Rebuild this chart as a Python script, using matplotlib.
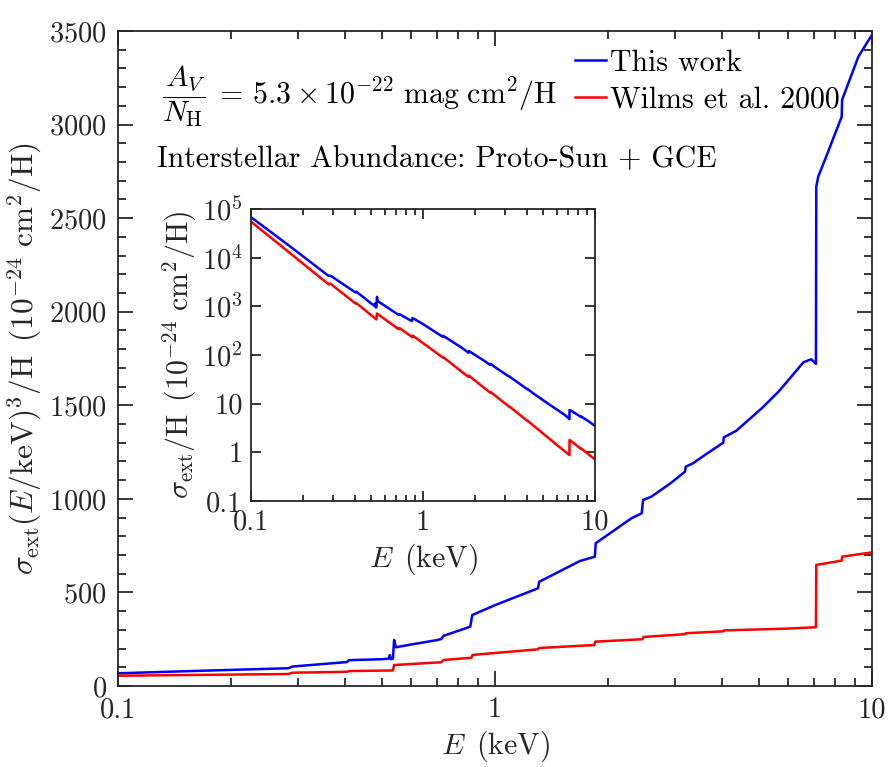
import numpy as np
import matplotlib
matplotlib.use("Agg")
import matplotlib.pyplot as plt
from matplotlib.ticker import FixedLocator, FixedFormatter, NullFormatter, NullLocator

plt.rcParams['font.family'] = 'serif'
plt.rcParams['font.serif'] = ['cmr10']
plt.rcParams['mathtext.fontset'] = 'cm'
plt.rcParams['axes.formatter.use_mathtext'] = True
plt.rcParams['axes.unicode_minus'] = False

# ---- data: E (keV) and sigma_ext * E^3 (1e-24 cm^2/H)
E_this = [0.100, 0.170, 0.283, 0.290, 0.405, 0.410, 0.500, 0.522, 0.526, 0.530,
          0.536, 0.540, 0.546, 0.600, 0.700, 0.720, 0.730, 0.860, 0.870, 1.000,
          1.300, 1.310, 1.680, 1.840, 1.850, 2.300, 2.450, 2.470, 2.600, 2.920,
          3.190, 3.205, 3.350, 3.600, 4.030, 4.045, 4.360, 5.100, 5.650, 5.950,
          6.580, 6.900, 7.100, 7.115, 7.200, 7.500, 8.310, 8.330, 9.200, 10.00]
Y_this = [68, 82, 95, 104, 128, 138, 143, 146, 165, 143,
          146, 246, 207, 222, 245, 251, 268, 317, 379, 432,
          522, 557, 668, 691, 763, 896, 923, 994, 1012, 1083,
          1145, 1172, 1190, 1234, 1300, 1329, 1363, 1484, 1573, 1626,
          1730, 1746, 1721, 2668, 2722, 2811, 3042, 3132, 3363, 3480]

E_wilms = [0.100, 0.283, 0.290, 0.405, 0.410, 0.536, 0.540, 0.720, 0.730, 0.866,
           0.872, 1.300, 1.310, 1.835, 1.845, 2.460, 2.475, 3.190, 3.205, 4.030,
           4.045, 6.000, 7.100, 7.115, 8.310, 8.330, 10.00]
Y_wilms = [55, 64, 71, 76, 80, 83, 112, 127, 139, 151,
           166, 196, 203, 219, 237, 250, 262, 277, 282, 292,
           297, 307, 314, 647, 670, 691, 714]

labels = ['This work', 'Wilms et al. 2000']
colors = ['#0000ff', '#ff0000']
x_ticks = [0.1, 1, 10]
x_ticklabels = ['0.1', '1', '10']
inset_yticks = [0.1, 1, 10, 1e2, 1e3, 1e4, 1e5]
inset_yticklabels = ['0.1', '1', '10', r'$10^2$', r'$10^3$', r'$10^4$', r'$10^5$']

E_this = np.array(E_this); Y_this = np.array(Y_this, float)
E_wilms = np.array(E_wilms); Y_wilms = np.array(Y_wilms, float)

dark = '#262626'
TICK = 20.5
LAB = 21.5
fig = plt.figure(figsize=(8.91, 7.67), dpi=100)
ax = fig.add_axes([118/891, 81/767, 754/891, 655/767])

ax.plot(E_this, Y_this, color=colors[0], lw=1.8, label=labels[0])
ax.plot(E_wilms, Y_wilms, color=colors[1], lw=1.8, label=labels[1])
ax.set_xscale('log')
ax.set_xlim(0.1, 10)
ax.set_ylim(0, 3500)
ax.xaxis.set_major_locator(FixedLocator(x_ticks))
ax.xaxis.set_major_formatter(FixedFormatter(x_ticklabels))
ax.xaxis.set_minor_locator(FixedLocator([m * 10.0**k for k in (-1, 0) for m in range(2, 10)]))
ax.xaxis.set_minor_formatter(NullFormatter())
ax.set_yticks(np.arange(0, 3501, 500))
ax.set_yticks(np.arange(0, 3501, 100), minor=True)

for s in ax.spines.values():
    s.set_color(dark); s.set_linewidth(1.3)
ax.tick_params(which='both', direction='in', top=True, right=True, colors=dark,
               labelsize=TICK, width=1.3, pad=8)
ax.tick_params(which='major', length=11)
ax.tick_params(which='minor', length=5.5)

ax.set_xlabel(r'$E\ \,(\mathrm{keV})$', fontsize=LAB, color=dark, labelpad=4)
ax.set_ylabel(r'$\sigma_{\rm ext}(E/\mathrm{keV})^3/\mathrm{H}\ \,(10^{-24}\ \mathrm{cm}^2/\mathrm{H})$',
              fontsize=22.5, color=dark, labelpad=4)

leg = ax.legend(loc='upper left', bbox_to_anchor=(0.606, 0.972), frameon=False, fontsize=LAB,
                handlelength=1.05, handletextpad=0.12, labelspacing=0.32, borderpad=0,
                borderaxespad=0)

ax.text(0.058, 0.900, r'$\dfrac{A_V}{N_\mathrm{H}}\;=\,5.3\times10^{-22}\ \mathrm{mag\ cm^2/H}$',
        transform=ax.transAxes, fontsize=LAB, ha='left', va='center')
ax.text(0.052, 0.793, 'Interstellar Abundance: Proto-Sun + GCE',
        transform=ax.transAxes, fontsize=LAB, ha='left', va='baseline')

# ---- inset
ins = fig.add_axes([251/891, (767-501)/767, 344/891, 292/767])
ins.plot(E_this, Y_this / E_this**3, color=colors[0], lw=1.8)
ins.plot(E_wilms, Y_wilms / E_wilms**3, color=colors[1], lw=1.8)
ins.set_xscale('log'); ins.set_yscale('log')
ins.set_xlim(0.1, 10); ins.set_ylim(0.1, 1e5)
ins.xaxis.set_major_locator(FixedLocator(x_ticks))
ins.xaxis.set_major_formatter(FixedFormatter(x_ticklabels))
ins.xaxis.set_minor_locator(FixedLocator([m * 10.0**k for k in (-1, 0) for m in range(2, 10)]))
ins.xaxis.set_minor_formatter(NullFormatter())
ins.yaxis.set_major_locator(FixedLocator(inset_yticks))
ins.yaxis.set_major_formatter(FixedFormatter(inset_yticklabels))
ins.yaxis.set_minor_locator(NullLocator())
for s in ins.spines.values():
    s.set_color(dark); s.set_linewidth(1.3)
ins.tick_params(which='both', direction='in', top=True, right=True, colors=dark,
                labelsize=TICK, width=1.3, pad=6)
ins.tick_params(which='major', length=7)
ins.tick_params(which='minor', length=4)
ins.set_xlabel(r'$E\ \,(\mathrm{keV})$', fontsize=LAB, color=dark, labelpad=4)
ins.set_ylabel(r'$\sigma_{\rm ext}/\mathrm{H}\ \,(10^{-24}\ \mathrm{cm}^2/\mathrm{H})$',
               fontsize=LAB, color=dark, labelpad=2)

fig.savefig('out.png', dpi=100)
